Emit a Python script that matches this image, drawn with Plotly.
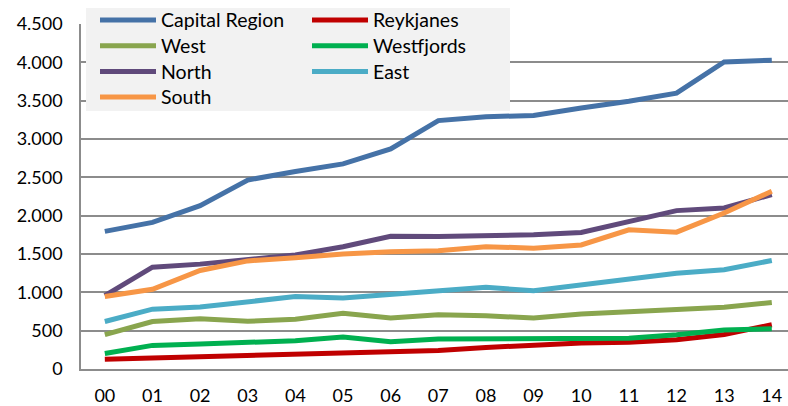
import plotly.graph_objects as go

years = ["00", "01", "02", "03", "04", "05", "06", "07",
         "08", "09", "10", "11", "12", "13", "14"]

capital_region = [1795, 1912, 2130, 2465, 2575, 2675, 2870, 3240,
                  3290, 3308, 3405, 3492, 3598, 4005, 4028]
reykjanes = [128, 143, 158, 182, 195, 210, 212, 240,
             280, 318, 340, 350, 382, 450, 578]
west = [448, 620, 655, 622, 650, 728, 665, 706,
        694, 665, 716, 746, 773, 804, 868]
westfjords = [203, 308, 326, 354, 368, 417, 357, 390,
              390, 402, 400, 402, 446, 510, 524]
north = [958, 1328, 1368, 1425, 1488, 1595, 1730, 1728,
         1736, 1750, 1780, 1925, 2066, 2100, 2275]
east = [620, 780, 808, 872, 945, 925, 975, 1032,
        1066, 1020, 1098, 1172, 1250, 1295, 1415]
south = [945, 1040, 1285, 1410, 1452, 1500, 1530, 1542,
         1596, 1576, 1618, 1815, 1785, 2035, 2318]

series = [
    ("Capital Region", capital_region, "#4572A7"),
    ("Reykjanes", reykjanes, "#C00000"),
    ("West", west, "#89A54E"),
    ("Westfjords", westfjords, "#00B050"),
    ("North", north, "#604A7B"),
    ("East", east, "#4BACC6"),
    ("South", south, "#F79646"),
]

FONT = "Lato"
GRID = "#8C8C8C"
W, H = 788, 406
ML, MR, MT, MB = 81, 0, 24, 37
PW, PH = W - ML - MR, H - MT - MB


def px_x(x):
    """Pixel column -> paper x."""
    return (x - ML) / PW


def px_y(y):
    """Pixel row -> paper y."""
    return 1 - (y - MT) / PH


fig = go.Figure()
for name, values, color in series:
    fig.add_trace(go.Scatter(
        x=list(range(len(years))), y=values, name=name, mode="lines",
        line=dict(color=color, width=5), showlegend=False,
    ))

# Two-column legend on a light grey panel in the top-left corner
shapes = [dict(
    type="rect", xref="paper", yref="paper", layer="above",
    x0=px_x(86), x1=px_x(510), y0=px_y(111), y1=px_y(8),
    fillcolor="#F2F2F2", line=dict(width=0),
)]
annotations = []
col_line_x = [(100, 156), (312, 368)]
col_text_x = [159, 371]
row_y = [20, 45.7, 71.4, 97]
for i, (name, _, color) in enumerate(series):
    col, row = i % 2, i // 2
    x0, x1 = col_line_x[col]
    y = row_y[row]
    shapes.append(dict(
        type="line", xref="paper", yref="paper", layer="above",
        x0=px_x(x0), x1=px_x(x1), y0=px_y(y), y1=px_y(y),
        line=dict(color=color, width=5),
    ))
    annotations.append(dict(
        xref="paper", yref="paper", x=px_x(col_text_x[col]), y=px_y(y),
        text=name, showarrow=False, xanchor="left", yanchor="middle",
        font=dict(family=FONT, size=19.5, color="#000000"),
    ))

fig.update_layout(
    width=W, height=H,
    margin=dict(l=ML, r=MR, t=MT, b=MB),
    paper_bgcolor="white", plot_bgcolor="white",
    separators=",.",
    font=dict(family=FONT, size=18, color="#000000"),
    showlegend=False,
    shapes=shapes,
    annotations=annotations,
    xaxis=dict(
        range=[-0.5, 14.34],
        tickmode="array",
        tickvals=list(range(len(years))),
        ticktext=years,
        showgrid=False, zeroline=False,
        showline=True, linecolor=GRID, linewidth=1.5,
        ticks="", ticklabelstandoff=10,
    ),
    yaxis=dict(
        range=[0, 4500],
        tickvals=[0, 500, 1000, 1500, 2000, 2500, 3000, 3500, 4000, 4500],
        tickformat=",d",
        showgrid=True, gridcolor=GRID, gridwidth=1.5,
        zeroline=False,
        showline=True, linecolor=GRID, linewidth=1.5,
        ticks="", ticklabelstandoff=13,
    ),
)

fig.write_html("out.html")
